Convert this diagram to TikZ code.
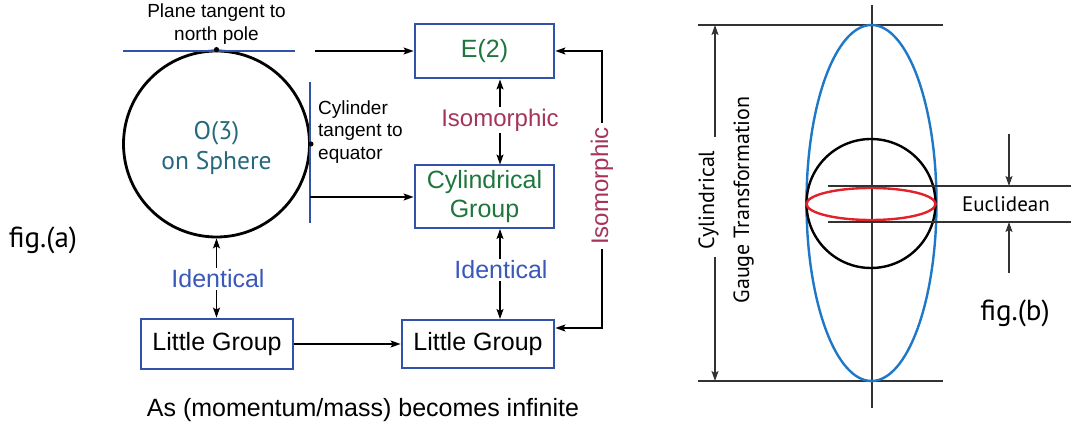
\documentclass[tikz,border=0pt]{standalone}
\usepackage{fontspec}
\setmainfont{Liberation Sans}
\newfontfamily\myr{PT Sans}
\usetikzlibrary{arrows.meta}
\definecolor{boxblue}{RGB}{50,82,170}
\definecolor{idblue}{RGB}{58,88,184}
\definecolor{isored}{RGB}{165,52,92}
\definecolor{grpgreen}{RGB}{30,118,60}
\definecolor{teal3}{RGB}{38,104,124}
\definecolor{ellblue}{RGB}{30,120,200}
\definecolor{ellred}{RGB}{228,32,40}
\definecolor{thin}{RGB}{50,50,50}
\begin{document}
\begin{tikzpicture}[x=1pt,y=-1pt,
  grpbox/.style={draw=boxblue,line width=2.8pt,inner sep=0pt,align=center,font=\fontsize{25pt}{29pt}\selectfont},
  conn/.style={line width=1.4pt,-{Stealth[length=10pt,width=7pt,inset=2pt]}},
  conn2/.style={line width=1.4pt,{Stealth[length=10pt,width=7pt,inset=2pt]}-{Stealth[length=10pt,width=7pt,inset=2pt]}},
  relid/.style={text=idblue,font=\fontsize{25pt}{29pt}\selectfont,inner sep=2pt},
  reliso/.style={text=isored,font=\fontsize{24pt}{28pt}\selectfont,inner sep=2pt},
  small/.style={font=\fontsize{19pt}{22.5pt}\selectfont,align=left,inner sep=0pt},
  myrtxt/.style={font=\myr\fontsize{#1}{#1}\selectfont,inner sep=0pt},
  thinline/.style={draw=thin,line width=1.2pt},
  dimarrow/.style={draw=thin,line width=1.2pt,-{Stealth[length=10pt,width=7pt,inset=2pt]}}
]
\useasboundingbox (0,0) rectangle (1071,430);

% ---------- fig (a) ----------
\node[draw,circle,line width=2.8pt,minimum size=186pt,inner sep=0pt] (sph) at (216.5,144) {};
\node[align=center,text=teal3,font=\myr\fontsize{25.5pt}{30pt}\selectfont,inner sep=0pt] (o3) at (216.5,148) {O(3)\\on Sphere};
\coordinate (pl1) at (123,51);
\coordinate (pl2) at (295,51);
\draw[boxblue,line width=2.6pt] (pl1) -- (pl2);
\coordinate (cy1) at (310,82);
\coordinate (cy2) at (310,223);
\draw[boxblue,line width=2.6pt] (cy1) -- (cy2);
\fill (sph.north) circle (2.6pt);
\fill (sph.east) circle (2.6pt);
\node[small,align=center] (plane) at (216.5,24) {Plane tangent to\\north pole};
\node[small,anchor=west] (cyl) at (318,132) {Cylinder\\tangent to\\equator};

\node[grpbox,text=grpgreen,minimum width=139pt,minimum height=54pt] (e2) at (484.5,51) {E(2)};
\node[grpbox,text=grpgreen,minimum width=139pt,minimum height=63pt] (cg) at (484.5,196.5) {Cylindrical\\Group};
\node[grpbox,minimum width=152pt,minimum height=48pt] (lgr) at (478,344) {Little Group};
\node[grpbox,minimum width=152pt,minimum height=50pt] (lgl) at (217,344) {Little Group};

\coordinate (pa) at (315,51);
\draw[conn] (pa) -- (e2.west |- pa);
\coordinate (ca) at (310,197);
\draw[conn] (ca) -- (cg.west |- ca);
\draw[conn] (lgl.east) -- (lgr.west |- lgl.east);

% vertical relations
\node[reliso] (iso1) at (500,120) {Isomorphic};
\draw[conn] (iso1.north -| 500,0) -- (500,79.5);
\draw[conn] (iso1.south -| 500,0) -- (500,164.5);
\node[relid] (id1) at (501,270) {Identical};
\draw[conn] (id1.north -| 500,0) -- (500,229);
\draw[conn] (id1.south -| 500,0) -- (500,319);
\node[relid] (id2) at (218,279) {Identical};
\draw[conn] (id2.north -| sph.south) -- (sph.south);
\draw[conn] (id2.south -| sph.south) -- (lgl.north -| sph.south);

% right isomorphic loop
\coordinate (rtop) at (602,51);
\coordinate (rbot) at (602,328);
\draw[conn2] (e2.east |- rtop) -- (rtop) -- (rbot) -- (lgr.east |- rbot);
\node[reliso,rotate=90,fill=white,inner sep=4pt] (iso2) at (602,186) {Isomorphic};

\node[myrtxt=29pt] (figa) at (43,240) {fig.(a)};
\node[font=\fontsize{25pt}{29pt}\selectfont,inner sep=0pt] (cap) at (363,410) {As (momentum/mass) becomes infinite};

% ---------- fig (b) ----------
\coordinate (ax1) at (872,5);
\coordinate (ax2) at (872,408);
\draw[thinline] (ax1) -- (ax2);
\coordinate (t1) at (698,25);
\coordinate (t2) at (943,25);
\coordinate (b1) at (698,381);
\coordinate (b2) at (943,381);
\draw[thinline] (t1) -- (t2);
\draw[thinline] (b1) -- (b2);
\draw[ellblue,line width=2.4pt] (871.5,203) ellipse [x radius=65, y radius=178];
\draw[black,line width=2.4pt] (871,203.5) circle [radius=64.5];
\draw[ellred,line width=2.4pt] (871,204) ellipse [x radius=64.5, y radius=16];
\coordinate (e1a) at (828,186);
\coordinate (e1b) at (1071,186);
\coordinate (e2a) at (828,222);
\coordinate (e2b) at (1071,222);
\draw[thinline] (e1a) -- (e1b);
\draw[thinline] (e2a) -- (e2b);
\coordinate (ua) at (1009,134);
\coordinate (da) at (1009,273);
\draw[dimarrow] (ua) -- (ua |- e1a);
\draw[dimarrow] (da) -- (da |- e2a);
\node[myrtxt=21pt] (eucl) at (1006,204) {Euclidean};

\coordinate (d1) at (715,137);
\coordinate (d2) at (715,257);
\draw[dimarrow] (d1) -- (d1 |- t1);
\draw[dimarrow] (d2) -- (d2 |- b1);
\node[rotate=90,align=center,inner sep=0pt,font=\myr\fontsize{22pt}{35pt}\selectfont] (cgt) at (726,200) {Cylindrical\\Gauge Transformation};

\node[myrtxt=29pt] (figb) at (1015,313) {fig.(b)};
\end{tikzpicture}
\end{document}
